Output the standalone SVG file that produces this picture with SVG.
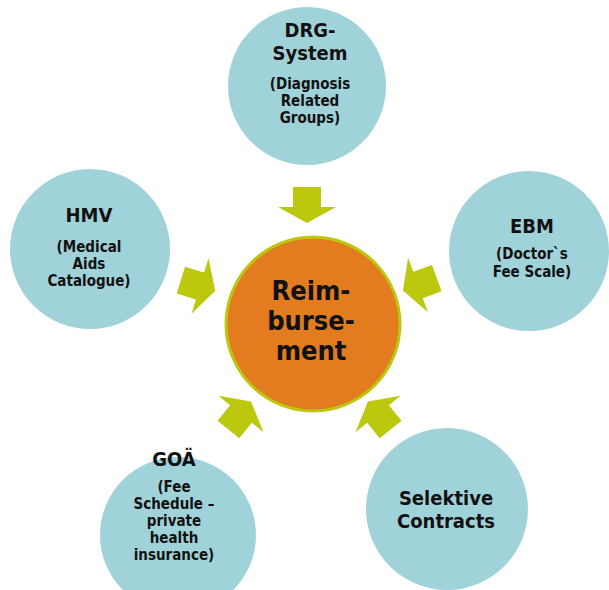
<svg xmlns="http://www.w3.org/2000/svg" width="609" height="590" viewBox="0 0 609 590">
  <defs>
    <style>
      .src { fill: #a0d3d9; }
      .hub { fill: #e27c1e; stroke: #bcc80e; stroke-width: 3; }
      .arrow { fill: #bcc80e; }
      text { font-family: "DejaVu Sans Condensed", "DejaVu Sans", sans-serif; font-stretch: condensed; font-weight: bold; fill: #111; text-anchor: middle; }
      .title { font-size: 20px; }
      .sub { font-size: 15px; }
      .hubtext { font-size: 27px; }
    </style>
    <!-- block arrow pointing along +x, origin at the middle of the head base -->
    <path id="blockArrow" d="M-20,-14 L0,-14 L0,-29 L16,0 L0,29 L0,14 L-20,14 Z"/>
  </defs>

  <rect width="609" height="590" fill="#ffffff"/>

  <g id="connectors" class="arrow">
    <use href="#blockArrow" transform="translate(307,207) rotate(90)"/>
    <use href="#blockArrow" transform="translate(200,286) rotate(17)"/>
    <use href="#blockArrow" transform="translate(418,285) rotate(160)"/>
    <use href="#blockArrow" transform="translate(241,414) rotate(-51)"/>
    <use href="#blockArrow" transform="translate(378,414) rotate(-129)"/>
  </g>

  <g id="drg">
    <circle class="src" cx="307" cy="86" r="79"/>
    <text class="title" x="310" y="37">DRG-</text>
    <text class="title" x="310" y="60">System</text>
    <text class="sub" x="310" y="89">(Diagnosis</text>
    <text class="sub" x="310" y="106">Related</text>
    <text class="sub" x="310" y="123">Groups)</text>
  </g>

  <g id="hmv">
    <circle class="src" cx="90" cy="249" r="80"/>
    <text class="title" x="89" y="222">HMV</text>
    <text class="sub" x="89" y="252">(Medical</text>
    <text class="sub" x="89" y="269">Aids</text>
    <text class="sub" x="89" y="286">Catalogue)</text>
  </g>

  <g id="ebm">
    <circle class="src" cx="529" cy="251" r="80"/>
    <text class="title" x="532" y="233">EBM</text>
    <text class="sub" x="532" y="259">(Doctor`s</text>
    <text class="sub" x="532" y="277">Fee Scale)</text>
  </g>

  <g id="goae">
    <circle class="src" cx="178" cy="535" r="78"/>
    <text class="title" x="174" y="466">GOÄ</text>
    <text class="sub" x="174" y="492">(Fee</text>
    <text class="sub" x="174" y="509">Schedule –</text>
    <text class="sub" x="174" y="526">private</text>
    <text class="sub" x="174" y="543">health</text>
    <text class="sub" x="174" y="560">insurance)</text>
  </g>

  <g id="selective">
    <circle class="src" cx="447" cy="509" r="81"/>
    <text class="title" x="446" y="505">Selektive</text>
    <text class="title" x="446" y="528">Contracts</text>
  </g>

  <g id="reimbursement">
    <circle class="hub" cx="313" cy="324" r="87"/>
    <text class="hubtext" x="311" y="300">Reim-</text>
    <text class="hubtext" x="311" y="330">burse-</text>
    <text class="hubtext" x="311" y="360">ment</text>
  </g>
</svg>
